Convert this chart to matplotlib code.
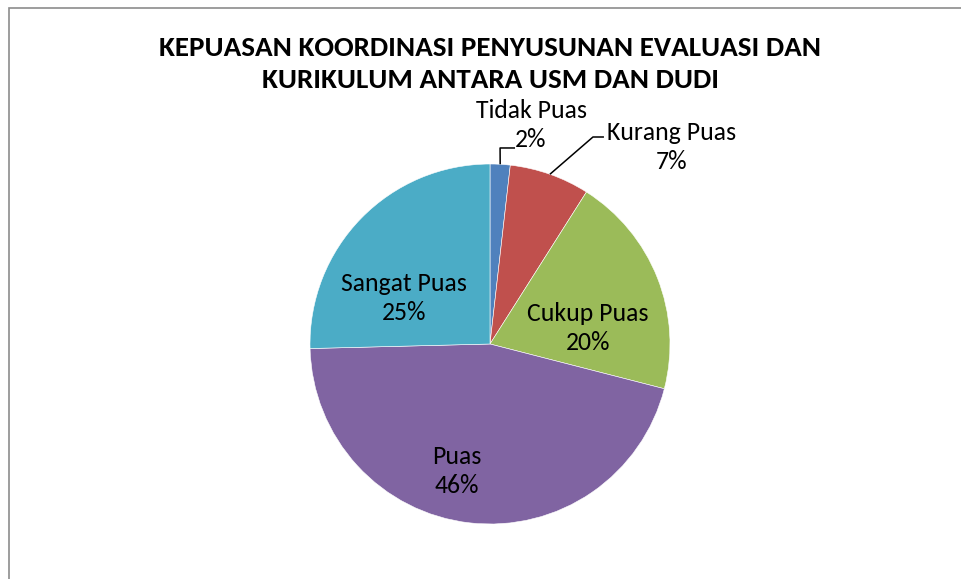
import matplotlib
matplotlib.use("Agg")
import matplotlib.pyplot as plt
import numpy as np
from matplotlib.patches import Rectangle

plt.rcParams["font.family"] = ["Carlito", "Lato", "DejaVu Sans"]

# Data (share of respondents, %)
categories = ["Tidak Puas", "Kurang Puas", "Cukup Puas", "Puas", "Sangat Puas"]
values = [1.8, 7.2, 20.0, 45.6, 25.4]
colors = ["#4F81BD", "#C0504D", "#9BBB59", "#8064A2", "#4BACC6"]

title = "KEPUASAN KOORDINASI PENYUSUNAN EVALUASI DAN\nKURIKULUM ANTARA USM DAN DUDI"

# Label layout (in pie-radius units); outside labels get a leader line
label_pos = [(0.228, 1.217), (1.006, 1.094), (0.544, 0.089), (-0.183, -0.706), (-0.478, 0.256)]
leader_elbow = {0: (0.056, 1.089, 0.139), 1: (0.572, 1.15, 0.633)}

W, H = 961, 579
fig = plt.figure(figsize=(W / 100, H / 100), dpi=100)
fig.patch.set_facecolor("white")

# Chart frame (Excel chart area border)
fig.patches.append(Rectangle((9 / W, -0.1), 1.2, (H - 8) / H + 0.1, transform=fig.transFigure,
                             fill=False, edgecolor="#8c8c8c", lw=1.2))

# Axes centered on the pie, radius 180 px
R = 180
L = 1.3
cx, cy = 490, H - 344
ax = fig.add_axes([(cx - R * L) / W, (cy - R * L) / H, 2 * R * L / W, 2 * R * L / H])

wedges, _ = ax.pie(values, colors=colors, startangle=90, counterclock=False, radius=1,
                   wedgeprops=dict(edgecolor="white", linewidth=0.4))
ax.set_xlim(-L, L)
ax.set_ylim(-L, L)
ax.set_aspect("equal")
ax.axis("off")

total = sum(values)
for i, (name, v) in enumerate(zip(categories, values)):
    pct = f"{round(v / total * 100):.0f}%"
    x, y = label_pos[i]
    ax.text(x, y, f"{name}\n{pct}", ha="center", va="center", fontsize=18.5, linespacing=1.35,
            color="black")
    if i in leader_elbow:
        w = wedges[i]
        mid = np.deg2rad((w.theta1 + w.theta2) / 2)
        ex, ey, hx = leader_elbow[i]
        ax.plot([np.cos(mid), ex, hx], [np.sin(mid), ey, ey], color="black", lw=1.1,
                solid_capstyle="butt")

fig.text(490 / W, 1 - 64 / H, title, ha="center", va="center", fontsize=21, fontweight="bold",
         linespacing=1.36)

fig.savefig("out.png", dpi=100)
